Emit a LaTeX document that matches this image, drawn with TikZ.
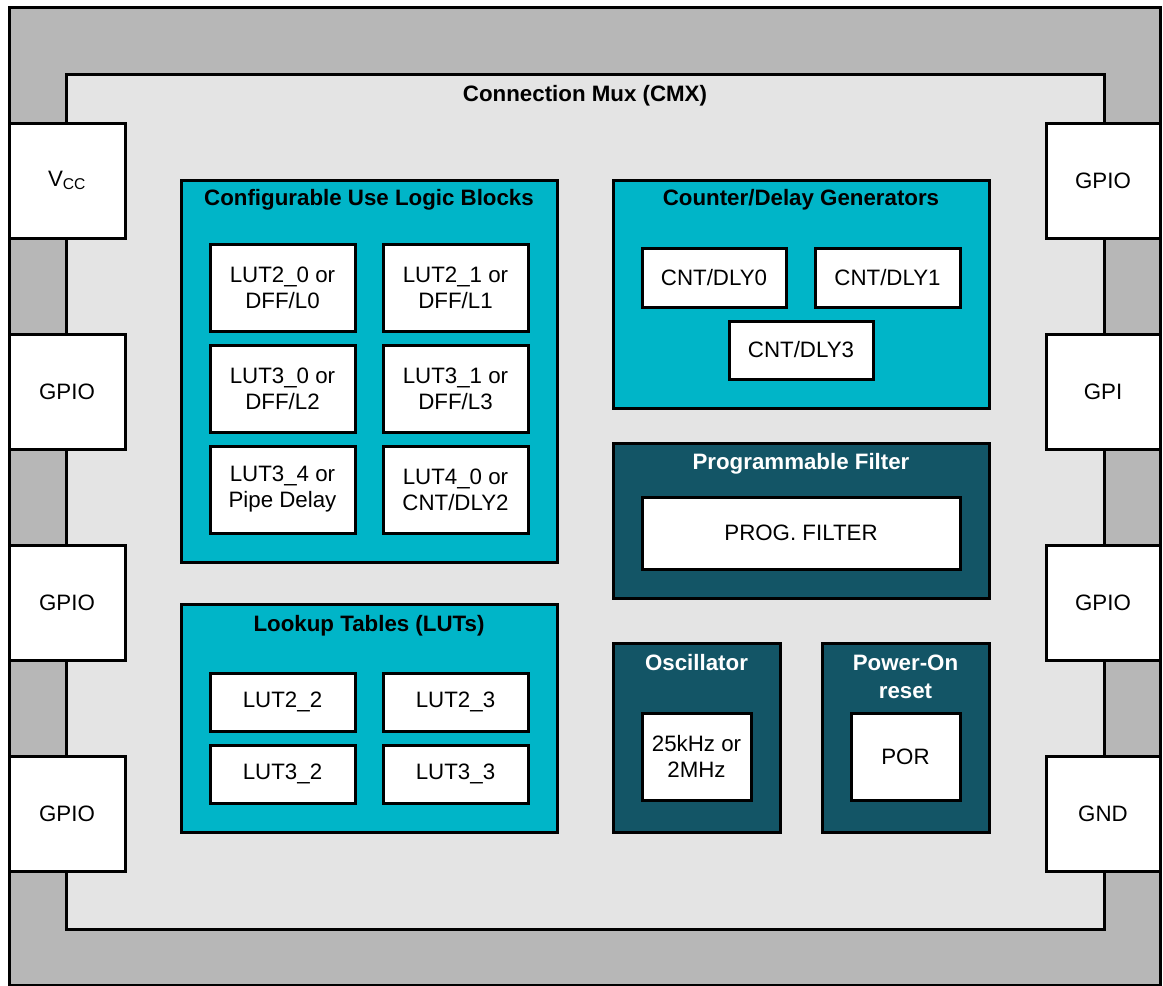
\documentclass[tikz,border=0pt]{standalone}
\usepackage{fontspec}
\setmainfont{Liberation Sans}
\definecolor{outergray}{HTML}{B7B7B7}
\definecolor{innergray}{HTML}{E4E4E4}
\definecolor{tealA}{HTML}{00B5C8}
\definecolor{tealD}{HTML}{135566}
\begin{document}
\begin{tikzpicture}[x=1pt,y=-1pt,
  every node/.style={font=\fontsize{22.3}{26}\selectfont, inner sep=0pt, outer sep=0pt, align=center},
  rbox/.style={draw=black, line width=3pt, rectangle},
  wbox/.style={rbox, fill=white},
  lblock/.style={rbox, fill=tealA},
  dblock/.style={rbox, fill=tealD},
  ttl/.style={font=\fontsize{22.3}{28}\selectfont\bfseries},
  wttl/.style={ttl, text=white}]
\useasboundingbox (0,0) rectangle (1163,986);
% package and CMX
\node[rbox, fill=outergray, minimum width=1151pt, minimum height=978pt] (pkg) at (584.5,496) {};
\node[rbox, fill=innergray, minimum width=1038pt, minimum height=855pt] (cmx) at (585,501.5) {};
\node[ttl] (cmxt) at (585,95.5) {Connection Mux (CMX)};
% pins left
\node[wbox, minimum width=116pt, minimum height=115pt] (p1) at (67,180.5) {V\textsubscript{CC}};
\node[wbox, minimum width=116pt, minimum height=115pt] (p2) at (67,391.5) {GPIO};
\node[wbox, minimum width=116pt, minimum height=115pt] (p3) at (67,602.5) {GPIO};
\node[wbox, minimum width=116pt, minimum height=115pt] (p4) at (67,813.5) {GPIO};
% pins right
\node[wbox, minimum width=114pt, minimum height=115pt] (q1) at (1103,180.5) {GPIO};
\node[wbox, minimum width=114pt, minimum height=115pt] (q2) at (1103,391.5) {GPI};
\node[wbox, minimum width=114pt, minimum height=115pt] (q3) at (1103,602.5) {GPIO};
\node[wbox, minimum width=114pt, minimum height=115pt] (q4) at (1103,813.5) {GND};
% Configurable use logic blocks
\node[lblock, minimum width=376pt, minimum height=382pt] (culb) at (369,371) {};
\node[ttl] (culbt) at (369,200) {Configurable Use Logic Blocks};
\node[wbox, minimum width=145pt, minimum height=87pt] (l1) at (282.5,287.5) {LUT2\_0 or\\DFF/L0};
\node[wbox, minimum width=145pt, minimum height=87pt] (l2) at (455.5,287.5) {LUT2\_1 or\\DFF/L1};
\node[wbox, minimum width=145pt, minimum height=87pt] (l3) at (282.5,388.5) {LUT3\_0 or\\DFF/L2};
\node[wbox, minimum width=145pt, minimum height=87pt] (l4) at (455.5,388.5) {LUT3\_1 or\\DFF/L3};
\node[wbox, minimum width=145pt, minimum height=87pt] (l5) at (282.5,489.5) {LUT3\_4 or\\Pipe Delay};
\node[wbox, minimum width=145pt, minimum height=87pt] (l6) at (455.5,489.5) {LUT4\_0 or\\CNT/DLY2};
% Lookup tables
\node[lblock, minimum width=376pt, minimum height=228pt] (luts) at (369,718) {};
\node[ttl] (lutst) at (369,626) {Lookup Tables (LUTs)};
\node[wbox, minimum width=145pt, minimum height=58pt] (t1) at (282.5,702) {LUT2\_2};
\node[wbox, minimum width=145pt, minimum height=58pt] (t2) at (455.5,702) {LUT2\_3};
\node[wbox, minimum width=145pt, minimum height=58pt] (t3) at (282.5,774) {LUT3\_2};
\node[wbox, minimum width=145pt, minimum height=58pt] (t4) at (455.5,774) {LUT3\_3};
% Counter/Delay
\node[lblock, minimum width=376pt, minimum height=228pt] (cnt) at (801,294) {};
\node[ttl] (cntt) at (801,200) {Counter/Delay Generators};
\node[wbox, minimum width=144pt, minimum height=59pt] (c0) at (714,277.5) {CNT/DLY0};
\node[wbox, minimum width=145pt, minimum height=59pt] (c1) at (887.5,277.5) {CNT/DLY1};
\node[wbox, minimum width=144pt, minimum height=58pt] (c3) at (801,350) {CNT/DLY3};
% Programmable filter
\node[dblock, minimum width=376pt, minimum height=155pt] (pf) at (801,520.5) {};
\node[wttl] (pft) at (801,464) {Programmable Filter};
\node[wbox, minimum width=318pt, minimum height=72pt] (pfi) at (801,533) {PROG. FILTER};
% Oscillator
\node[dblock, minimum width=167pt, minimum height=189pt] (osc) at (696.5,737.5) {};
\node[wttl] (osct) at (696.5,663) {Oscillator};
\node[wbox, minimum width=109pt, minimum height=87pt] (osci) at (696.5,756.5) {25kHz or\\2MHz};
% POR
\node[dblock, minimum width=167pt, minimum height=189pt] (por) at (905.5,737.5) {};
\node[wttl] (port) at (905.5,677) {Power-On\\reset};
\node[wbox, minimum width=109pt, minimum height=87pt] (pori) at (905.5,756.5) {POR};
\end{tikzpicture}
\end{document}
